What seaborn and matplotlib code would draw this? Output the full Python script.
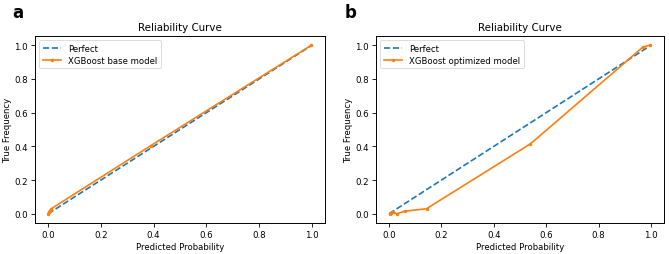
import matplotlib
matplotlib.use("Agg")
import matplotlib.pyplot as plt
import seaborn as sns

perfect_x = [0.0, 1.0]
perfect_y = [0.0, 1.0]

base_pred = [0.0, 0.002, 0.005, 0.012, 0.39, 0.998]
base_true = [0.0, 0.008, 0.018, 0.03, 0.405, 1.0]

opt_pred = [0.003, 0.008, 0.015, 0.03, 0.06, 0.143, 0.54, 0.97, 0.995]
opt_true = [0.0, 0.003, 0.008, 0.0, 0.015, 0.03, 0.415, 0.99, 1.0]

titles = ["Reliability Curve", "Reliability Curve"]
model_labels = ["XGBoost base model", "XGBoost optimized model"]
panel_letters = ["a", "b"]

plt.rcParams["font.family"] = ["DejaVu Sans"]
fig = plt.figure(figsize=(6.69, 2.55), dpi=100)
ax1 = fig.add_axes([35/669, 1-224/255, 290/669, 187/255])
ax2 = fig.add_axes([376/669, 1-224/255, 288/669, 187/255])

blue = "#1f77b4"
orange = "#ff7f0e"

for ax, px, py, lab, title in [
    (ax1, base_pred, base_true, model_labels[0], titles[0]),
    (ax2, opt_pred, opt_true, model_labels[1], titles[1]),
]:
    sns.lineplot(x=perfect_x, y=perfect_y, ax=ax, color=blue, linestyle="--",
                 label="Perfect", linewidth=1.2)
    sns.lineplot(x=px, y=py, ax=ax, color=orange, marker=".", markersize=5,
                 label=lab, linewidth=1.2, sort=False, markeredgewidth=0)
    ax.set_title(title, fontsize=7.4, pad=4)
    ax.set_xlabel("Predicted Probability", fontsize=6.1, labelpad=2)
    ax.set_ylabel("True Frequency", fontsize=6.1, labelpad=2)
    ax.set_xlim(-0.05, 1.05)
    ax.set_ylim(-0.055, 1.055)
    ax.set_xticks([0.0, 0.2, 0.4, 0.6, 0.8, 1.0])
    ax.set_yticks([0.0, 0.2, 0.4, 0.6, 0.8, 1.0])
    ax.tick_params(labelsize=6.2, length=3, width=0.6, pad=2)
    for s in ax.spines.values():
        s.set_linewidth(0.7)
    leg = ax.legend(loc="upper left", fontsize=6.1, frameon=True, fancybox=True,
                    handlelength=2.2, borderpad=0.4, labelspacing=0.4)
    leg.get_frame().set_linewidth(0.6)

fig.text(12/669, 1-13/255, panel_letters[0], fontsize=12, fontweight="bold", va="center", ha="left")
fig.text(345/669, 1-13/255, panel_letters[1], fontsize=12, fontweight="bold", va="center", ha="left")

fig.savefig("out.png", dpi=100)
